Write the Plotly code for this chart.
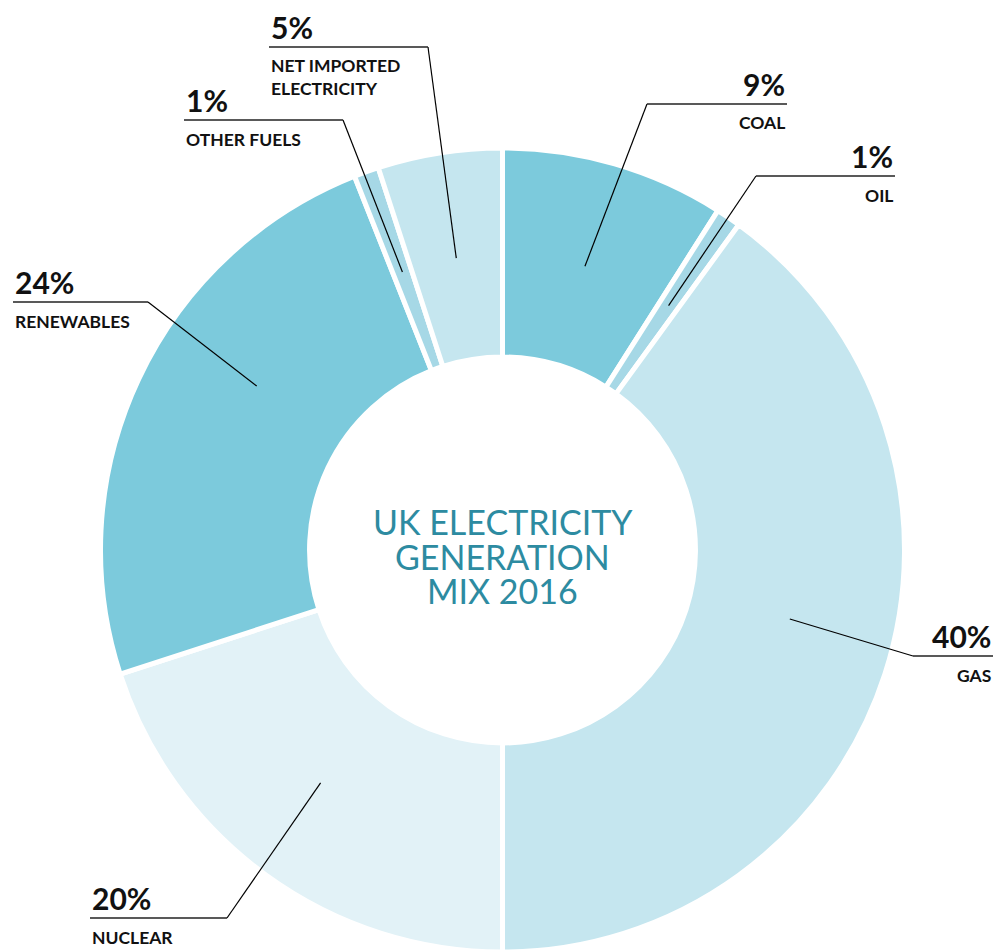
import math
import plotly.graph_objects as go

# ---- data ----
categories = ["COAL", "OIL", "GAS", "NUCLEAR", "RENEWABLES", "OTHER FUELS", "NET IMPORTED<br>ELECTRICITY"]
shares = [9, 1, 40, 20, 24, 1, 5]
pct_labels = ["9%", "1%", "40%", "20%", "24%", "1%", "5%"]
colors = ["#7ccadc", "#a6d8e6", "#c5e6ef", "#e2f2f7", "#7ccadc", "#a6d8e6", "#c5e6ef"]

W, H = 997, 952
L, R, T, B = 100, 92, 148, 0
PW, PH = W - L - R, H - T - B
cx, cy = L + PW / 2, T + PH / 2
rad = min(PW, PH) / 2


def px(x):
    return (x - L) / PW


def py(y):
    return (H - B - y) / PH


fig = go.Figure(go.Pie(
    values=shares,
    labels=categories,
    marker=dict(colors=colors, line=dict(color="white", width=5)),
    hole=0.48,
    sort=False,
    direction="clockwise",
    rotation=0,
    textinfo="none",
    hoverinfo="label+percent",
    showlegend=False,
    domain=dict(x=[0, 1], y=[0, 1]),
))

# label layout in pixels: (elbow x, line y, line end x, side, angle nudge deg)
label_layout = [
    (647, 104, 787, "right", 0),
    (756, 176, 895, "right", 0),
    (913, 656, 993, "right", -4.5),
    (227, 918, 90, "left", 2),
    (148, 302, 13, "left", 8.5),
    (343, 120, 184, "left", 0),
    (428, 47, 269, "left", 0),
]

total = sum(shares)
cum = 0
shapes = []
annotations = []
FONT = "Lato"
for i, v in enumerate(shares):
    ex, ly, endx, side, nudge = label_layout[i]
    mid = (cum + v / 2) / total * 2 * math.pi + math.radians(nudge)
    cum += v
    r_in = rad * 0.735
    ax = cx + r_in * math.sin(mid)
    ay = cy - r_in * math.cos(mid)
    shapes.append(dict(type="line", xref="paper", yref="paper",
                       x0=px(ax), y0=py(ay), x1=px(ex), y1=py(ly),
                       line=dict(color="black", width=1.2)))
    shapes.append(dict(type="line", xref="paper", yref="paper",
                       x0=px(ex), y0=py(ly), x1=px(endx), y1=py(ly),
                       line=dict(color="#222", width=1.6)))
    anchor = "right" if side == "right" else "left"
    annotations.append(dict(
        text="<b>%s</b>" % pct_labels[i], xref="paper", yref="paper",
        x=px(endx), y=py(ly - 20), xanchor=anchor, yanchor="middle",
        showarrow=False, align=anchor,
        font=dict(family=FONT, size=30, color="#111")))
    nlines = categories[i].count("<br>") + 1
    annotations.append(dict(
        text="<b>%s</b>" % categories[i], xref="paper", yref="paper",
        x=px(endx), y=py(ly + 19 + (nlines - 1) * 11), xanchor=anchor, yanchor="middle",
        showarrow=False, align=anchor,
        font=dict(family=FONT, size=17.5, color="#111")))

title_lines = ["UK ELECTRICITY", "GENERATION", "MIX 2016"]
title_y = [521, 556, 590]
for t, yy in zip(title_lines, title_y):
    annotations.append(dict(
        text=t, xref="paper", yref="paper", x=px(cx), y=py(yy),
        xanchor="center", yanchor="middle", showarrow=False,
        font=dict(family=FONT, size=34, color="#2d8ba1")))

fig.update_layout(
    width=W, height=H,
    margin=dict(l=L, r=R, t=T, b=B, pad=0),
    paper_bgcolor="white", plot_bgcolor="white",
    shapes=shapes, annotations=annotations,
)

fig.write_html(
    "out.html",
    config={"displayModeBar": False},
    post_script="document.body.style.margin='0';document.body.style.overflow='hidden';",
)
